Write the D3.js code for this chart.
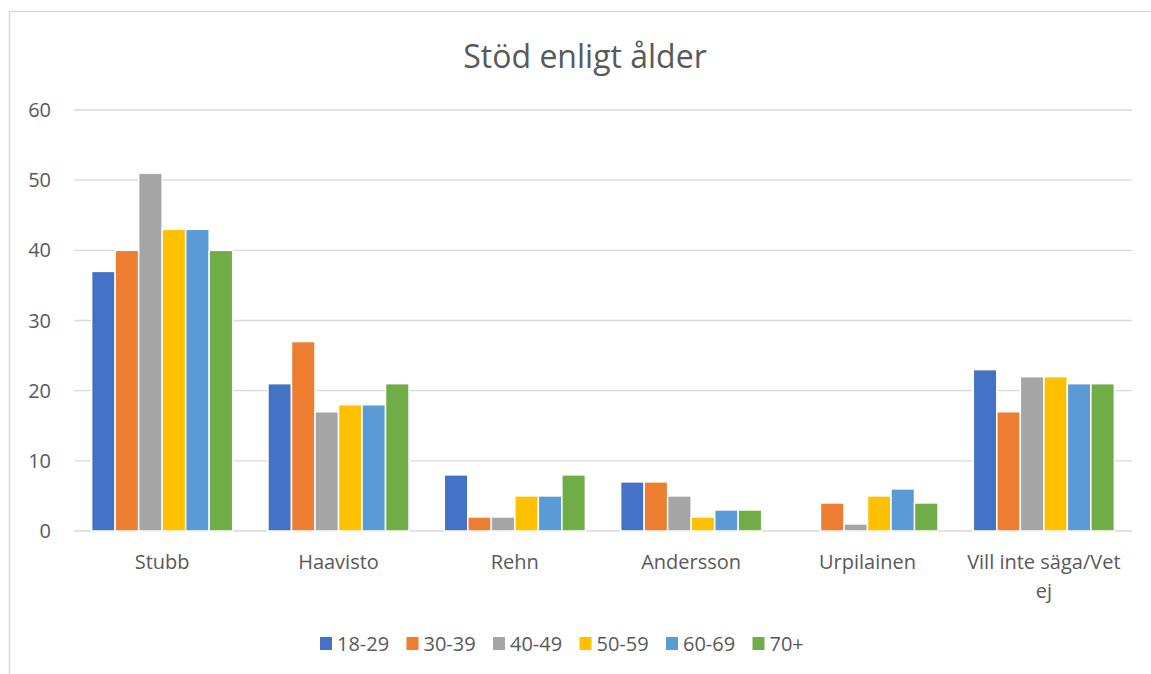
<!DOCTYPE html>
<html>
<head>
<meta charset="utf-8">
<script src="https://cdn.jsdelivr.net/npm/d3@7"></script>
<style>
  body { margin: 0; background: #fff; }
  svg text { font-family: "Open Sans", "Noto Sans", sans-serif; fill: #595959; }
</style>
</head>
<body>
<div id="chart"></div>
<script>
const width = 1151;
const height = 674;

const categories = ["Stubb", "Haavisto", "Rehn", "Andersson", "Urpilainen", "Vill inte säga/Vet ej"];
const ageGroups = ["18-29", "30-39", "40-49", "50-59", "60-69", "70+"];
const colors = ["#4472C4", "#ED7D31", "#A5A5A5", "#FFC000", "#5B9BD5", "#70AD47"];
// one array per age group, values per candidate
const s18 = [37, 21, 8, 7, 0, 23];
const s30 = [40, 27, 2, 7, 4, 17];
const s40 = [51, 17, 2, 5, 1, 22];
const s50 = [43, 18, 5, 2, 5, 22];
const s60 = [43, 18, 5, 3, 6, 21];
const s70 = [40, 21, 8, 3, 4, 21];
const series = [s18, s30, s40, s50, s60, s70];
const yTicks = [0, 10, 20, 30, 40, 50, 60];

const margin = { left: 74, right: 19, top: 110, bottom: 143 };

const svg = d3.select("#chart").append("svg")
  .attr("width", width).attr("height", height);

// chart border (Excel frame)
svg.append("rect")
  .attr("x", 9.5).attr("y", 11.5)
  .attr("width", width + 10).attr("height", height + 10)
  .attr("fill", "none").attr("stroke", "#d9d9d9").attr("stroke-width", 1.5);

svg.append("text")
  .attr("x", 585).attr("y", 68)
  .attr("text-anchor", "middle")
  .style("font-size", "32px")
  .text("Stöd enligt ålder");

const x = d3.scaleBand().domain(categories)
  .range([margin.left, width - margin.right]);
const sub = d3.scaleBand().domain(ageGroups)
  .range([0, x.bandwidth()]).paddingOuter(0.75);
const y = d3.scaleLinear().domain([0, 60]).range([height - margin.bottom, margin.top]);

// gridlines
svg.append("g").selectAll("line").data(yTicks).join("line")
  .attr("x1", margin.left).attr("x2", width - margin.right)
  .attr("y1", d => y(d)).attr("y2", d => y(d))
  .attr("stroke", "#d9d9d9").attr("stroke-width", 1.3);

// y labels
svg.append("g").selectAll("text").data(yTicks).join("text")
  .attr("x", 51).attr("y", d => y(d) + 7)
  .attr("text-anchor", "end")
  .style("font-size", "20px")
  .text(d => d);

// bars
const groups = svg.append("g").selectAll("g").data(series).join("g")
  .attr("fill", (d, i) => colors[i]);
groups.selectAll("rect")
  .data((d, i) => d.map((v, j) => ({ v, cat: categories[j], age: ageGroups[i] })))
  .join("rect")
  .filter(d => d.v > 0)
  .attr("x", d => x(d.cat) + sub(d.age))
  .attr("width", sub.bandwidth())
  .attr("y", d => y(d.v))
  .attr("height", d => y(0) - y(d.v))
  .attr("stroke", "#fff").attr("stroke-width", 1.5);

// category labels
const catLabels = svg.append("g").selectAll("text").data(categories).join("text")
  .attr("x", d => x(d) + x.bandwidth() / 2)
  .attr("y", 569)
  .attr("text-anchor", "middle")
  .style("font-size", "20px");
catLabels.each(function (d) {
  const t = d3.select(this);
  if (d === "Vill inte säga/Vet ej") {
    t.append("tspan").attr("x", x(d) + x.bandwidth() / 2).text("Vill inte säga/Vet");
    t.append("tspan").attr("x", x(d) + x.bandwidth() / 2).attr("dy", 29).text("ej");
  } else {
    t.text(d);
  }
});

// legend
const legend = svg.append("g").selectAll("g").data(ageGroups).join("g")
  .attr("transform", (d, i) => `translate(${320 + i * 86.5},637)`);
legend.append("rect").attr("width", 12).attr("height", 13)
  .attr("fill", (d, i) => colors[i]);
legend.append("text").attr("x", 17).attr("y", 14)
  .style("font-size", "20px").text(d => d);
</script>
</body>
</html>
